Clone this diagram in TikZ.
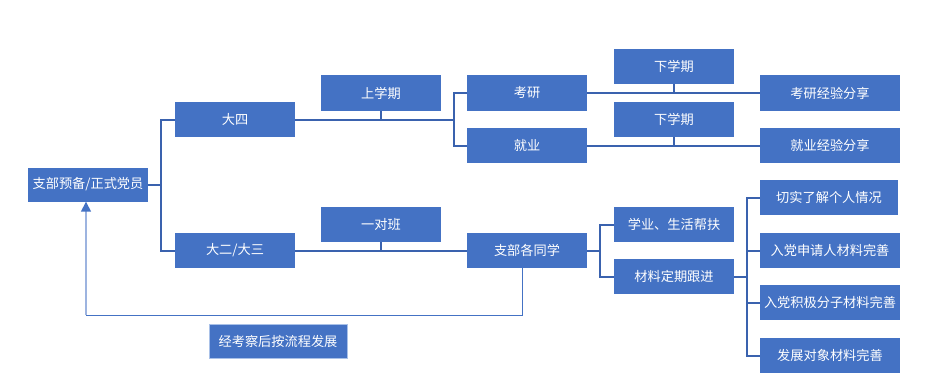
\documentclass[tikz,border=0pt]{standalone}
\usepackage{fontspec}
\setmainfont{Noto Sans CJK SC}
\usetikzlibrary{arrows.meta}
\definecolor{boxblue}{HTML}{4472C4}
\definecolor{lineblue}{HTML}{3A62AE}
\definecolor{lightblue}{HTML}{9DB4E0}
\definecolor{edgeblue}{HTML}{A9C1E8}
\begin{document}
\begin{tikzpicture}[x=1pt,y=-1pt,
  box/.style={fill=boxblue,text=white,minimum height=35pt,inner sep=0pt,
    font=\fontsize{13.2}{15}\selectfont},
  wa/.style={minimum width=120pt},
  wb/.style={minimum width=140pt},
  conn/.style={draw=lineblue,line width=2pt},
  fbline/.style={draw=boxblue,line width=1pt},
  fbup/.style={draw=lightblue,line width=1.5pt,-{Triangle[length=10pt,width=10pt,fill=boxblue,color=boxblue]}}]
\useasboundingbox (0,0) rectangle (936,380);
% nodes
\node[box,wa,minimum height=34pt] (root) at (88,184.5) {支部预备/正式党员};
\node[box,wa] (d4) at (235,119.5) {大四};
\node[box,wa] (d23) at (235,250.5) {大二/大三};
\node[box,wa,minimum height=36pt] (s1) at (381,93) {上学期};
\node[box,wa] (ydb) at (381,224.5) {一对班};
\node[box,wa,minimum height=36pt] (ky) at (527,93) {考研};
\node[box,wa] (jy) at (527,145.5) {就业};
\node[box,wa] (x1) at (674,66.5) {下学期};
\node[box,wa] (x2) at (674,119.5) {下学期};
\node[box,wb,minimum height=36pt] (kyfx) at (830,93) {考研经验分享};
\node[box,wb] (jyfx) at (830,145.5) {就业经验分享};
\node[box,wa] (zb) at (527,250.5) {支部各同学};
\node[box,wa] (xy) at (674,224.5) {学业、生活帮扶};
\node[box,wa] (cl) at (674,276.5) {材料定期跟进};
\node[box,wb,minimum width=138pt] (r1) at (829,197.5) {切实了解个人情况};
\node[box,wb] (r2) at (830,250.5) {入党申请人材料完善};
\node[box,wb] (r3) at (830,302.5) {入党积极分子材料完善};
\node[box,wb] (r4) at (830,355.5) {发展对象材料完善};
\node[box,minimum width=138pt,minimum height=34pt,draw=edgeblue,line width=0.8pt] (jkc) at (278,341) {经考察后按流程发展};
% coordinates
\coordinate (b1) at (161,184.5);
\coordinate (b2) at (454,119.5);
\coordinate (b3) at (600,250.5);
\coordinate (b4) at (747,276.5);
\coordinate (f1) at (522,315);
\coordinate (f2) at (86,315);
% root bracket
\draw[conn] (root.east) -- (b1);
\draw[conn] (d4.west) -| (b1) |- (d23.west);
% 大四 branch
\draw[conn] (d4.east) -- (b2);
\draw[conn] (s1.south) -- (s1.south |- d4.east);
\draw[conn] (ky.west) -| (b2) |- (jy.west);
\draw[conn] (ky.east) -- (kyfx.west);
\draw[conn] (x1.south) -- (x1.south |- ky.east);
\draw[conn] (jy.east) -- (jyfx.west);
\draw[conn] (x2.south) -- (x2.south |- jy.east);
% 大二/大三 branch
\draw[conn] (d23.east) -- (zb.west);
\draw[conn] (ydb.south) -- (ydb.south |- d23.east);
\draw[conn] (zb.east) -- (b3);
\draw[conn] (xy.west) -| (b3) |- (cl.west);
\draw[conn] (cl.east) -- (b4);
\draw[conn] (r1.west) -| (b4) |- (r4.west);
\draw[conn] (r2.west) -- (r2.west -| b4);
\draw[conn] (r3.west) -- (r3.west -| b4);
% feedback
\draw[fbline] (zb.south -| f1) -- (f1) -- (f2);
\draw[fbup] (f2) -- (f2 |- root.south);
\end{tikzpicture}
\end{document}
